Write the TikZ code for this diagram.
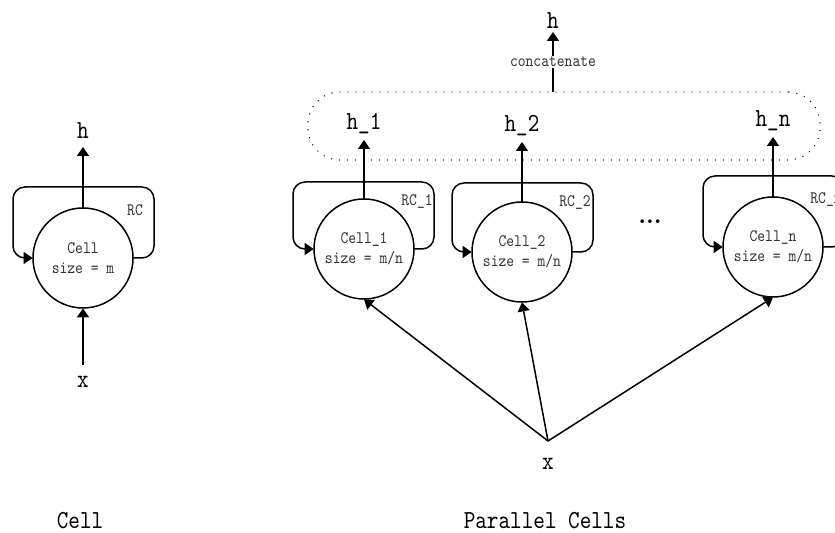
\documentclass[tikz,border=0pt]{standalone}
\usepackage{xcolor}
\usepackage{fontspec}
\setmonofont{lmmono10-regular.otf}[FakeStretch=0.85]
\usepackage{tikz}
\usetikzlibrary{positioning, shapes, calc, arrows.meta}

\begin{document}
\begin{tikzpicture}[scale=0.5, every node/.style={transform shape}, x=1pt, y=-1pt]
		\tikzstyle{cell}=[draw=black, circle, minimum size=100pt, inner sep=0pt, line width=0.75pt, align=center, text=black!80, font=\ttfamily\fontsize{17.5}{20}\selectfont]
		\tikzstyle{lbl}=[inner sep=8pt, text=black, font=\ttfamily\fontsize{26}{28}\selectfont]
		\tikzstyle{rc}=[inner sep=0pt, text=black!80, font=\ttfamily\fontsize{17.5}{19}\selectfont]
		\tikzstyle{conn}=[line width=0.75pt, -{Triangle[length=4.5pt, width=6pt]}]
		\tikzstyle{feedback}=[conn, rounded corners=6pt]
		\tikzstyle{caption}=[text=black, font=\ttfamily\fontsize{26}{28}\selectfont]

		\useasboundingbox (0,0) rectangle (835,533);

		% single cell
		\node (c0) at (83,258) [cell] {Cell\\size = m};
		\draw [feedback] (c0.east) -| ($(c0)+(71,-71)$) -| ($(c0)+(-70,0)$) -- (c0.west);
		\node at ($(c0)+(52,-48)$) [rc] {RC};
		\node (h0) at (83,147) [lbl, anchor=south] {h};
		\draw [conn] (c0.north) -- (h0.south);
		\node (x0) at (83,365) [lbl, anchor=north, inner sep=11pt] {x};
		\draw [conn] (x0.north) -- (c0.south);

		% parallel cells
		\node (c1) at (364,249) [cell] {Cell\_1\\size = m/n};
		\node (c2) at (522,252) [cell] {Cell\_2\\size = m/n};
		\node (cn) at (773,247) [cell] {Cell\_n\\size = m/n};

		\draw [feedback] (c1.east) -| ($(c1)+(70,-67)$) -| ($(c1)+(-71,0)$) -- (c1.west);
		\draw [feedback] (c2.east) -| ($(c2)+(71,-69)$) -| ($(c2)+(-70,0)$) -- (c2.west);
		\draw [feedback] (cn.east) -| ($(cn)+(71,-71)$) -| ($(cn)+(-70,0)$) -- (cn.west);

		\node at ($(c1)+(53,-47)$) [rc] {RC\_1};
		\node at ($(c2)+(53,-49)$) [rc] {RC\_2};
		\node at ($(cn)+(53,-47)$) [rc] {RC\_n};

		\node (dots) at (650,222) [font=\rmfamily\bfseries\fontsize{25}{25}\selectfont] {...};

		\node (h1) at (364,140) [lbl, anchor=south, inner sep=6pt] {h\_1};
		\node (h2) at (522,142) [lbl, anchor=south, inner sep=6pt] {h\_2};
		\node (hn) at (773,137) [lbl, anchor=south, inner sep=6pt] {h\_n};
		\draw [conn] (c1.north) -- (h1.south);
		\draw [conn] (c2.north) -- (h2.south);
		\draw [conn] (cn.north) -- (hn.south);

		\node (hcat) at (564,126) [draw=black, line width=0.7pt, dash pattern=on 0pt off 4pt, line cap=round, rounded corners=16pt, minimum width=512pt, minimum height=68pt, inner sep=0pt] {};
		\node (hout) at (553,32) [lbl, anchor=south, inner sep=3pt] {h};
		\draw [conn] (hout |- hcat.north) -- node [fill=white, inner sep=1pt, text=black!80, font=\ttfamily\fontsize{17.5}{19}\selectfont] {concatenate} (hout.south);

		\coordinate (split) at (548,441);
		\node (x1) at (split) [lbl, anchor=north, inner sep=17pt] {x};
		\draw [conn] (split) -- (c1.south);
		\draw [conn] (split) -- (c2.south);
		\draw [conn] (split) -- (cn.south);

		\node (tcell) at (80,521) [caption] {Cell};
		\node (tpar) at (545,521) [caption] {Parallel Cells};
\end{tikzpicture}
\end{document}
